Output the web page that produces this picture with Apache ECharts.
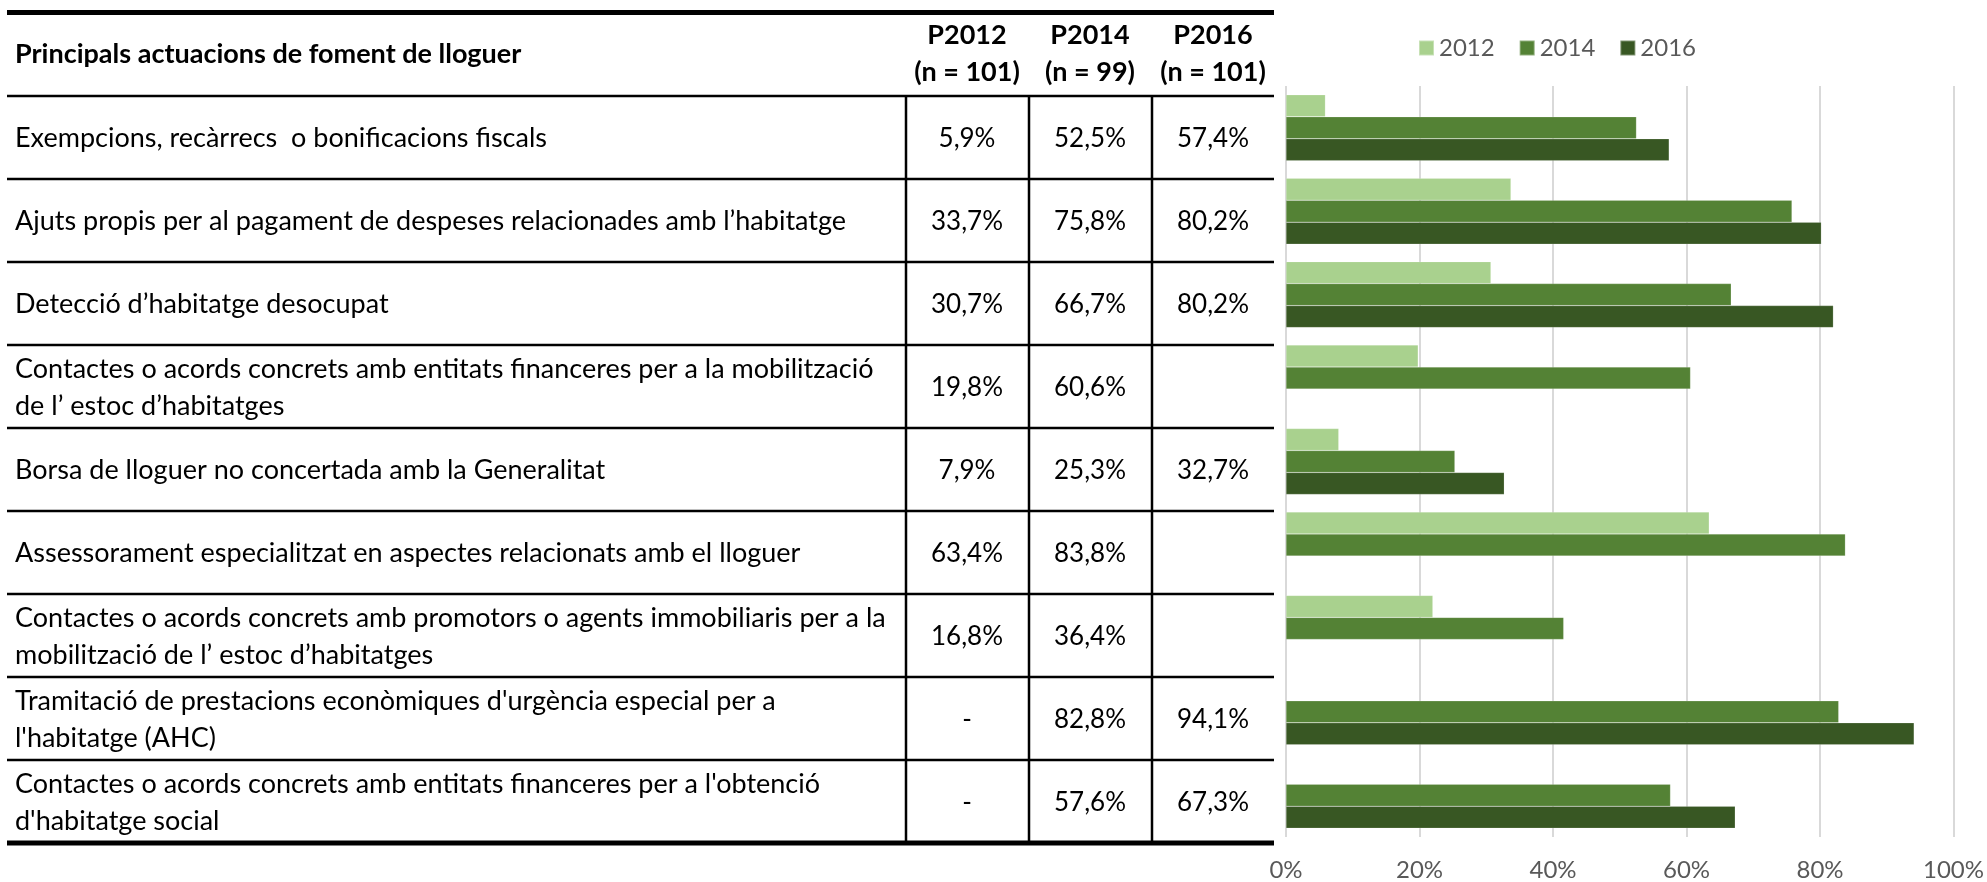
<!DOCTYPE html>
<html>
<head>
<meta charset="utf-8">
<title>Principals actuacions de foment de lloguer</title>
<script src="https://cdn.jsdelivr.net/npm/echarts@6/dist/echarts.min.js"></script>
<style>
	html, body { margin:0; padding:0; background:#fff; }
	#main { width:1987px; height:882px; }
</style>
</head>
<body>
<div id="main"></div>
<script>
// files de la taula / categories del grafic
var actuacions = [
	'Exempcions, recàrrecs  o bonificacions fiscals',
	'Ajuts propis per al pagament de despeses relacionades amb l’habitatge',
	'Detecció d’habitatge desocupat',
	'Contactes o acords concrets amb entitats financeres per a la mobilització\nde l’ estoc d’habitatges',
	'Borsa de lloguer no concertada amb la Generalitat',
	'Assessorament especialitzat en aspectes relacionats amb el lloguer',
	'Contactes o acords concrets amb promotors o agents immobiliaris per a la\nmobilització de l’ estoc d’habitatges',
	'Tramitació de prestacions econòmiques d\'urgència especial per a\nl\'habitatge (AHC)',
	'Contactes o acords concrets amb entitats financeres per a l\'obtenció\nd\'habitatge social'
];
var anys = ['2012', '2014', '2016'];
var capcaleres = ['P2012\n(n = 101)', 'P2014\n(n = 99)', 'P2016\n(n = 101)'];

// valors del grafic (%)
var v2012 = [5.9, 33.7, 30.7, 19.8, 7.9, 63.4, 22.0, null, null];
var v2014 = [52.5, 75.8, 66.7, 60.6, 25.3, 83.8, 41.6, 82.8, 57.6];
var v2016 = [57.4, 80.2, 82.0, null, 32.7, null, null, 94.1, 67.3];

// valors escrits a la taula
var t2012 = ['5,9%', '33,7%', '30,7%', '19,8%', '7,9%', '63,4%', '16,8%', '-', '-'];
var t2014 = ['52,5%', '75,8%', '66,7%', '60,6%', '25,3%', '83,8%', '36,4%', '82,8%', '57,6%'];
var t2016 = ['57,4%', '80,2%', '80,2%', '', '32,7%', '', '', '94,1%', '67,3%'];

var ticks = ['0%', '20%', '40%', '60%', '80%', '100%'];
var colors = ['#A9D18E', '#548235', '#385723'];

var font = 'Lato';
var taulaTop = 96, filaH = 83;		//alçada de les files
var colX = [906, 1029, 1152];		//separadors de columna
var colMid = [967, 1090, 1213];
var taulaDreta = 1274;

var graphic = [];
function linia(x1, y1, x2, y2, w) {
	graphic.push({ type: 'line', silent: true, shape: {x1: x1, y1: y1, x2: x2, y2: y2},
		style: { stroke: '#000', lineWidth: w } });
}
function text(x, y, s, align, size, bold) {
	graphic.push({ type: 'text', silent: true, x: x, y: y,
		style: { text: s, fill: '#000', fontFamily: font, fontSize: size, fontWeight: bold ? 'bold' : 'normal',
			align: align, verticalAlign: 'middle', lineHeight: 37 } });
}

//capçalera
linia(7, 12.5, taulaDreta, 12.5, 5);
text(15, 54, 'Principals actuacions de foment de lloguer', 'left', 27, true);
for (var c = 0; c < 3; c++) text(colMid[c], 54, capcaleres[c], 'center', 27, true);
linia(7, taulaTop, taulaDreta, taulaTop, 2.5);

//files
var cols = [t2012, t2014, t2016];
for (var i = 0; i < actuacions.length; i++) {
	var yc = taulaTop + filaH * i + filaH / 2 + 1;
	text(15, yc, actuacions[i], 'left', 27, false);
	for (var c = 0; c < 3; c++) text(colMid[c], yc, cols[c][i], 'center', 26, false);
	if (i < actuacions.length - 1) linia(7, taulaTop + filaH * (i + 1), taulaDreta, taulaTop + filaH * (i + 1), 2.5);
}
var taulaBottom = taulaTop + filaH * actuacions.length;
for (var c = 0; c < 3; c++) linia(colX[c], taulaTop, colX[c], taulaBottom, 2.5);
linia(7, taulaBottom, taulaDreta, taulaBottom, 5);

var myChart = echarts.init(document.getElementById('main'));
var series = [v2012, v2014, v2016].map(function (d, k) {
	return {
		name: anys[k],
		type: 'bar',
		data: d,
		barGap: 0,
		barCategoryGap: '21%',
		itemStyle: { color: colors[k], borderColor: 'rgba(255,255,255,0.35)', borderWidth: 0.5 }
	};
});

var option = {
	animation: false,
	textStyle: { fontFamily: font },
	legend: {
		data: anys,
		left: 1418,
		top: 36,
		padding: 0,
		icon: 'rect',
		itemWidth: 15,
		itemHeight: 15,
		itemGap: 24,
		textStyle: { fontSize: 24, color: '#595959' }
	},
	grid: { left: 1286, right: 33, top: 86, bottom: 45 },
	xAxis: {
		type: 'value',
		min: 0,
		max: 100,
		interval: 20,
		axisLine: { show: false },
		axisTick: { show: false },
		axisLabel: {
			fontSize: 24,
			color: '#595959',
			margin: 21,
			formatter: function (v) { return ticks[Math.round(v / 20)]; }
		},
		splitLine: { lineStyle: { color: '#D9D9D9', width: 2 } }
	},
	yAxis: {
		type: 'category',
		data: actuacions,
		inverse: true,
		axisLine: { show: false },
		axisTick: { show: false },
		axisLabel: { show: false }
	},
	graphic: graphic,
	series: series
};
myChart.setOption(option);
</script>
</body>
</html>
